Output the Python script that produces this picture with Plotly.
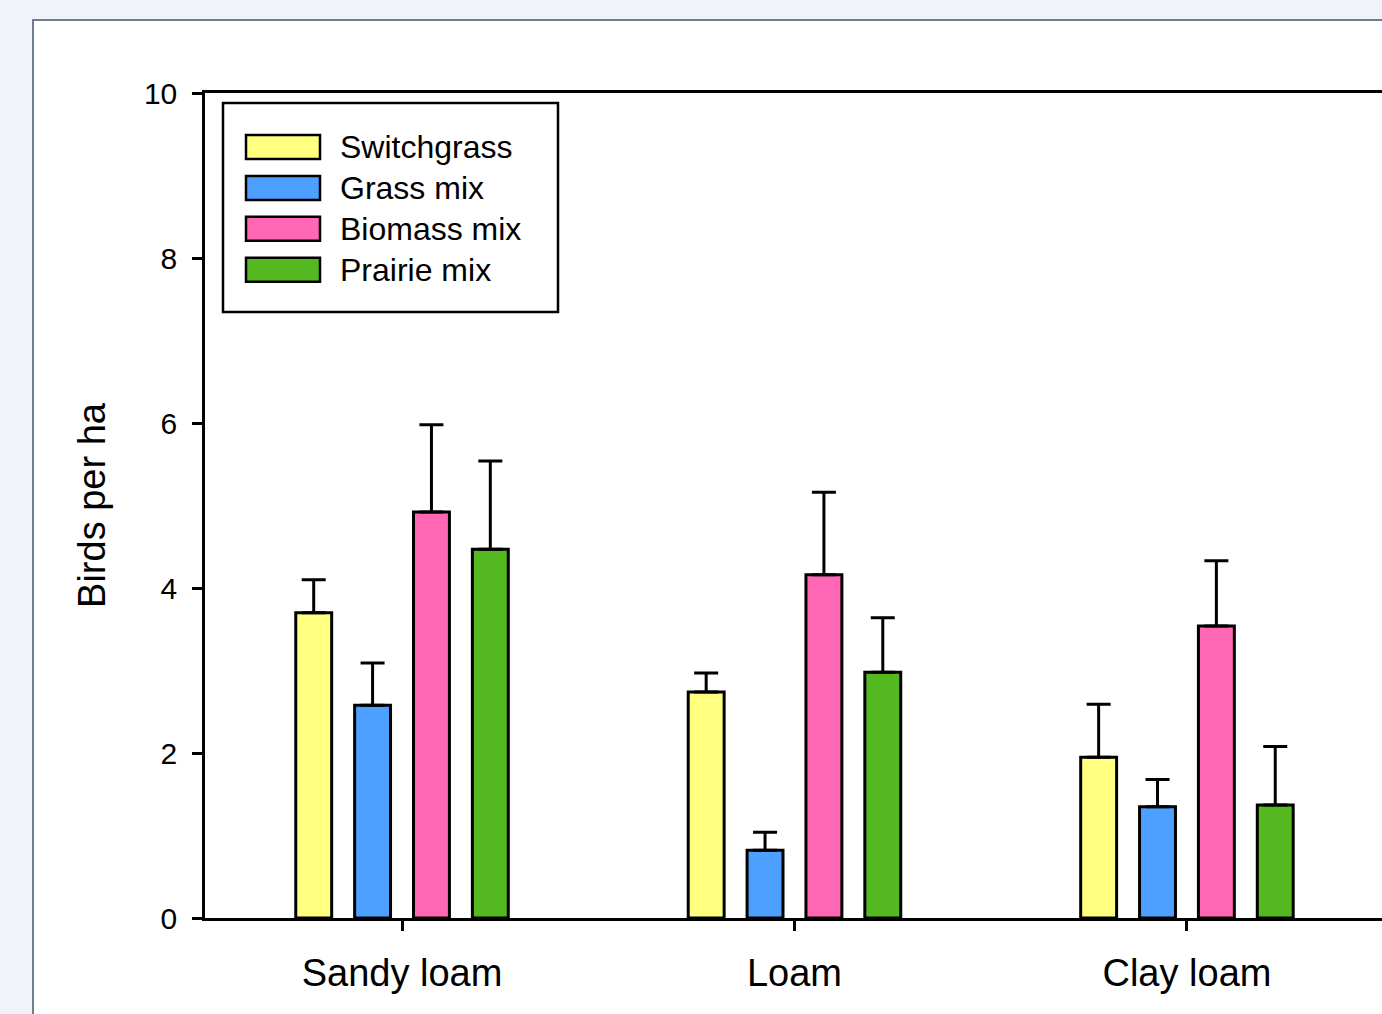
import plotly.graph_objects as go

# ---- data ----
categories = ["Sandy loam", "Loam", "Clay loam"]
series_names = ["Switchgrass", "Grass mix", "Biomass mix", "Prairie mix"]
switchgrass = [3.70, 2.74, 1.95]
switchgrass_se = [0.40, 0.23, 0.64]
grass_mix = [2.58, 0.82, 1.35]
grass_mix_se = [0.51, 0.22, 0.33]
biomass_mix = [4.92, 4.16, 3.54]
biomass_mix_se = [1.06, 1.00, 0.79]
prairie_mix = [4.47, 2.98, 1.37]
prairie_mix_se = [1.07, 0.66, 0.71]
y_ticks = [0, 2, 4, 6, 8, 10]

colors = ["#ffff80", "#4da0ff", "#ff66b3", "#54b820"]
values = [switchgrass, grass_mix, biomass_mix, prairie_mix]
errors = [switchgrass_se, grass_mix_se, biomass_mix_se, prairie_mix_se]

FONT = "Liberation Sans, Arial, sans-serif"
W, H = 1382, 1014
ML, MR, MT, MB = 205, 0, 93, 96
PW, PH = W - ML - MR, H - MT - MB


def px_x(x):
    return (x - ML) / PW


def px_y(y):
    return (H - MB - y) / PH


fig = go.Figure()
for name, vals, errs, col in zip(series_names, values, errors, colors):
    fig.add_trace(go.Bar(
        x=categories, y=vals, name=name,
        marker=dict(color=col, line=dict(color="black", width=3)),
        error_y=dict(type="data", symmetric=False, array=errs,
                     arrayminus=[0] * len(errs),
                     color="black", thickness=3, width=12),
        showlegend=False,
    ))

shapes = []
# white panel with border
shapes.append(dict(type="rect", xref="paper", yref="paper", layer="below",
                   x0=px_x(33), x1=px_x(1500), y0=px_y(1100), y1=px_y(20),
                   fillcolor="white", line=dict(color="#6e7d94", width=2)))
# legend box
shapes.append(dict(type="rect", xref="paper", yref="paper",
                   x0=px_x(223), x1=px_x(558), y0=px_y(312), y1=px_y(103),
                   fillcolor="white", line=dict(color="black", width=2.5)))
annotations = []
for i, (name, col) in enumerate(zip(series_names, colors)):
    yc = 147 + i * 40.9
    shapes.append(dict(type="rect", xref="paper", yref="paper",
                       x0=px_x(246), x1=px_x(320), y0=px_y(yc + 12), y1=px_y(yc - 12),
                       fillcolor=col, line=dict(color="black", width=2.5)))
    annotations.append(dict(xref="paper", yref="paper", x=px_x(338), y=px_y(yc),
                            xanchor="left", yanchor="middle", text=name,
                            showarrow=False,
                            font=dict(family=FONT, size=32, color="black")))

fig.update_layout(
    width=W, height=H,
    margin=dict(l=ML, r=MR, t=MT, b=MB, pad=0),
    paper_bgcolor="#f1f3f8",
    plot_bgcolor="white",
    barmode="group", bargap=0.4, bargroupgap=0.39,
    shapes=shapes, annotations=annotations,
    font=dict(family=FONT, color="black"),
    xaxis=dict(
        range=[-0.502, 2.497], showline=True, linecolor="black", linewidth=2.5,
        mirror=True, ticks="outside", ticklen=10, tickwidth=2.5, tickcolor="black",
        showgrid=False, zeroline=False, ticklabelstandoff=10,
        tickfont=dict(family=FONT, size=38, color="black"),
    ),
    yaxis=dict(
        range=[0, 10], tickvals=y_ticks, showline=True, linecolor="black",
        linewidth=2.5, ticks="outside", ticklen=10, tickwidth=2.5, tickcolor="black",
        showgrid=False, zeroline=False, ticklabelstandoff=9,
        tickfont=dict(family=FONT, size=30, color="black"),
        title=dict(text="Birds per ha", standoff=27,
                   font=dict(family=FONT, size=38, color="black")),
    ),
)

fig.write_html(
    "out.html",
    config={"displayModeBar": False},
    post_script="document.body.style.margin='0';document.body.style.overflow='hidden';",
)
